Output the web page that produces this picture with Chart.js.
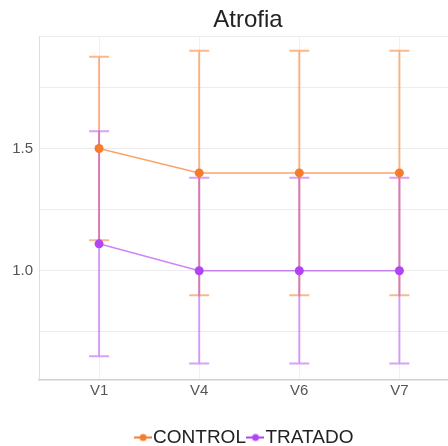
<!DOCTYPE html>
<html>
<head>
<meta charset="utf-8">
<script src="https://cdn.jsdelivr.net/npm/chart.js@4.4.0/dist/chart.umd.min.js"></script>
<style>
  html, body { margin: 0; padding: 0; background: #fff; overflow: hidden; }
  #wrap { width: 448px; height: 446px; overflow: hidden; position: relative; }
  #box { position: absolute; left: 0; top: 0; width: 496px; height: 457px; }
</style>
</head>
<body>
<div id="wrap"><div id="box"><canvas id="chart"></canvas></div></div>
<script>
// values
const visits = ['V1', 'V4', 'V6', 'V7'];
const controlMean = [1.5, 1.4, 1.4, 1.4];
const controlErr = [0.375, 0.5, 0.5, 0.5];
const tratadoMean = [1.11, 1.0, 1.0, 1.0];
const tratadoErr = [0.46, 0.38, 0.38, 0.38];
const yGridTicks = [0.75, 1.0, 1.25, 1.5, 1.75];
const yLabelTicks = [1.0, 1.5];
const yMin = 0.553;
const yMax = 1.96;

const ORANGE = 'rgb(245,125,45)';
const PURPLE = 'rgb(178,68,245)';
const FONT = 'Liberation Sans, Arial, sans-serif';

const toPoints = (values) => values.map((v, i) => ({x: i, y: v}));

function legendMarker(color) {
  const c = document.createElement('canvas');
  c.width = 18;
  c.height = 10;
  const g = c.getContext('2d');
  g.strokeStyle = color;
  g.lineWidth = 2;
  g.beginPath();
  g.moveTo(0, 5);
  g.lineTo(18, 5);
  g.stroke();
  g.fillStyle = color;
  g.beginPath();
  g.arc(9, 5, 3.5, 0, Math.PI * 2);
  g.fill();
  return c;
}

// draws the vertical error bars with caps under the lines
const errorBars = {
  id: 'errorBars',
  beforeDatasetsDraw(chart) {
    const {ctx, scales: {x, y}} = chart;
    chart.data.datasets.forEach((ds) => {
      ctx.save();
      ctx.strokeStyle = ds.errorColor;
      ctx.lineWidth = 2;
      ds.data.forEach((pt, i) => {
        const px = x.getPixelForValue(pt.x);
        const top = y.getPixelForValue(pt.y + ds.errors[i]);
        const bottom = y.getPixelForValue(pt.y - ds.errors[i]);
        ctx.beginPath();
        ctx.moveTo(px, top);
        ctx.lineTo(px, bottom);
        ctx.moveTo(px - 10, top);
        ctx.lineTo(px + 10, top);
        ctx.moveTo(px - 10, bottom);
        ctx.lineTo(px + 10, bottom);
        ctx.stroke();
      });
      ctx.restore();
    });
  }
};

new Chart(document.getElementById('chart'), {
  type: 'line',
  data: {
    datasets: [{
      label: 'CONTROL',
      data: toPoints(controlMean),
      errors: controlErr,
      errorColor: 'rgba(245,125,45,0.55)',
      borderColor: 'rgba(245,125,45,0.7)',
      backgroundColor: ORANGE,
      pointBackgroundColor: ORANGE,
      pointBorderWidth: 0,
      pointRadius: 4.5,
      borderWidth: 1.5,
      tension: 0,
      marker: ORANGE
    }, {
      label: 'TRATADO',
      data: toPoints(tratadoMean),
      errors: tratadoErr,
      errorColor: 'rgba(178,68,245,0.5)',
      borderColor: 'rgba(178,68,245,0.65)',
      backgroundColor: PURPLE,
      pointBackgroundColor: PURPLE,
      pointBorderWidth: 0,
      pointRadius: 4.5,
      borderWidth: 1.5,
      tension: 0,
      marker: PURPLE
    }]
  },
  options: {
    responsive: true,
    maintainAspectRatio: false,
    animation: false,
    layout: {padding: 0},
    plugins: {
      title: {
        display: true,
        text: 'Atrofia',
        color: '#222',
        font: {family: FONT, size: 24, weight: 'normal'},
        padding: {top: 6, bottom: 1.2}
      },
      legend: {
        position: 'bottom',
        labels: {
          usePointStyle: true,
          boxWidth: 1,
          padding: 9,
          color: '#222',
          font: {family: FONT, size: 19},
          generateLabels: (chart) => chart.data.datasets.map((ds, i) => ({
            text: ds.label,
            pointStyle: legendMarker(ds.marker),
            fillStyle: ds.marker,
            strokeStyle: ds.marker,
            lineWidth: 0,
            fontColor: '#222',
            hidden: false,
            datasetIndex: i
          }))
        }
      },
      tooltip: {enabled: false}
    },
    scales: {
      x: {
        type: 'linear',
        // plot runs past the right edge of the picture
        min: -0.6,
        max: 3.92,
        afterBuildTicks: (scale) => {
          scale.ticks = visits.map((v, i) => ({value: i}));
        },
        afterFit: (scale) => {
          scale.height = 39;
        },
        ticks: {
          padding: 2,
          color: '#555',
          font: {family: FONT, size: 15},
          callback: (value) => visits[value]
        },
        grid: {color: '#f0f0f0', drawTicks: false},
        border: {color: '#cfcfcf', width: 1.5}
      },
      y: {
        min: yMin,
        max: yMax,
        afterBuildTicks: (scale) => {
          scale.ticks = yGridTicks.concat([yMax]).map((v) => ({value: v}));
        },
        afterFit: (scale) => {
          scale.width = 39;
        },
        ticks: {
          padding: 6,
          color: '#555',
          font: {family: FONT, size: 15},
          callback: (value) => (yLabelTicks.includes(value) ? value.toFixed(1) : '')
        },
        grid: {color: '#ececec', drawTicks: false},
        border: {color: '#dedede', width: 1}
      }
    }
  },
  plugins: [errorBars]
});
</script>
</body>
</html>
